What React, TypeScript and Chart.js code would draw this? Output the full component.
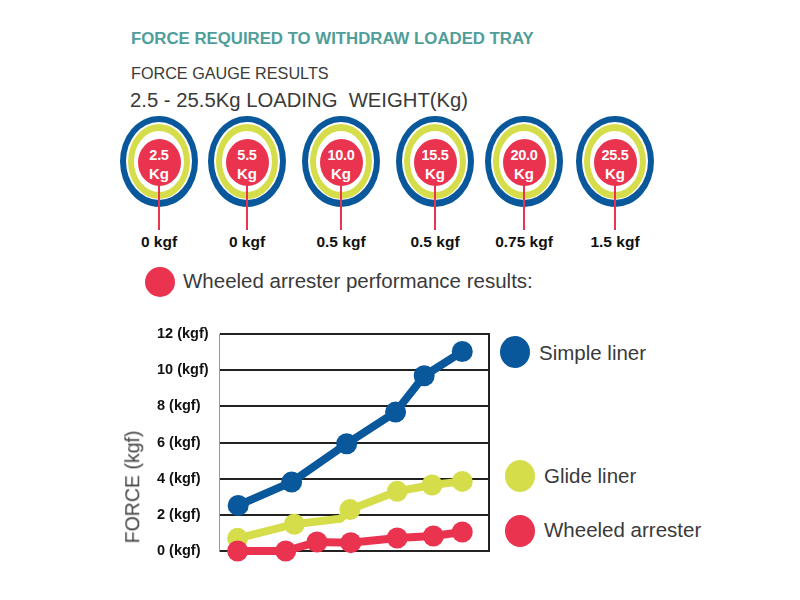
import React, { useEffect, useRef } from 'react';
import { Chart, registerables } from 'chart.js';

Chart.register(...registerables);

const BLUE = '#0a589c';
const YELLOW = '#d5de4a';
const RED = '#e9334f';
const TEAL = '#4f9e99';
const FONT = '"Liberation Sans", Arial, Helvetica, sans-serif';

// Gauge row
const gaugeLoads = ['2.5', '5.5', '10.0', '15.5', '20.0', '25.5'];
const gaugeForces = ['0 kgf', '0 kgf', '0.5 kgf', '0.5 kgf', '0.75 kgf', '1.5 kgf'];

// Chart series (x = relative test position, y = force in kgf)
const seriesNames = ['Simple liner', 'Glide liner', 'Wheeled arrester'];
const simplePos = [7.1, 26.9, 47.3, 65.4, 76.0, 90.1];
const simpleForce = [2.52, 3.81, 5.93, 7.68, 9.69, 11.03];
const glidePos = [6.9, 27.9, 45.0, 48.5, 66.0, 78.9, 90.1];
const glideForce = [0.7, 1.48, 1.79, 2.29, 3.3, 3.65, 3.85];
const glideMarker = [1, 1, 0, 1, 1, 1, 1];
const wheeledPos = [6.9, 24.7, 36.3, 48.8, 66.0, 79.4, 90.1];
const wheeledForce = [0, 0, 0.5, 0.46, 0.72, 0.83, 1.05];
const yTickLabels = ['0 (kgf)', '2 (kgf)', '4 (kgf)', '6 (kgf)', '8 (kgf)', '10 (kgf)', '12 (kgf)'];

const T: React.FC<any> = ({ x, cy, size, weight = 400, color = '#3a3a3a', center = false, ls, children }) => (
  <div
    style={{
      position: 'absolute',
      left: x,
      top: cy - 0.49 * size,
      fontSize: size,
      lineHeight: `${size}px`,
      fontWeight: weight,
      color,
      fontFamily: FONT,
      whiteSpace: 'pre',
      letterSpacing: ls,
      transform: center ? 'translateX(-50%)' : undefined,
    }}
  >
    {children}
  </div>
);

const E: React.FC<any> = ({ cx, cy, w, h, color }) => (
  <div
    style={{
      position: 'absolute',
      left: cx - w / 2,
      top: cy - h / 2,
      width: w,
      height: h,
      borderRadius: '50%',
      background: color,
    }}
  />
);

const gaugeX = [159, 247, 341, 435, 524, 615];

const Gauge: React.FC<any> = ({ cx, load, force }) => {
  const cy = 161;
  return (
    <>
      <E cx={cx} cy={cy} w={78} h={91} color={BLUE} />
      <E cx={cx} cy={cy} w={66} h={78} color="#fff" />
      <E cx={cx} cy={cy} w={62} h={75} color={YELLOW} />
      <E cx={cx} cy={cy} w={50} h={61} color="#fff" />
      <E cx={cx} cy={cy + 1} w={43} h={47} color={RED} />
      <div style={{ position: 'absolute', left: cx - 1, top: 184, width: 2, height: 46, background: RED }} />
      <T x={cx} cy={155.5} size={14.5} weight={700} color="#fff" center ls={-0.3}>{load}</T>
      <T x={cx} cy={173.5} size={15} weight={700} color="#fff" center>Kg</T>
      <T x={cx} cy={241.7} size={15.5} weight={700} color="#111" center>{force}</T>
    </>
  );
};

const ChartBox: React.FC = () => {
  const ref = useRef<HTMLCanvasElement>(null);
  useEffect(() => {
    if (!ref.current) return;
    const frame = {
      id: 'frame',
      beforeDatasetsDraw(chart: any) {
        const { ctx, chartArea } = chart;
        ctx.save();
        ctx.strokeStyle = '#222';
        ctx.lineWidth = 2;
        ctx.beginPath();
        ctx.moveTo(Math.round(chartArea.right), chartArea.top - 1);
        ctx.lineTo(Math.round(chartArea.right), chartArea.bottom + 1);
        ctx.stroke();
        ctx.restore();
      },
    };
    const mk = (xs: number[], ys: number[]) => xs.map((x, i) => ({ x, y: ys[i] }));
    const chart = new Chart(ref.current, {
      type: 'line',
      data: {
        datasets: [
          {
            label: seriesNames[0],
            data: mk(simplePos, simpleForce),
            borderColor: BLUE,
            backgroundColor: BLUE,
            borderWidth: 8,
            pointRadius: 10.5,
            pointBorderWidth: 0,
            pointHoverRadius: 10.5,
            tension: 0,
            clip: false as any,
            order: 2,
          },
          {
            label: seriesNames[1],
            data: mk(glidePos, glideForce),
            borderColor: YELLOW,
            backgroundColor: YELLOW,
            borderWidth: 8,
            pointRadius: glideMarker.map((m) => (m ? 10.5 : 0)),
            pointBorderWidth: 0,
            tension: 0,
            clip: false as any,
            order: 1,
          },
          {
            label: seriesNames[2],
            data: mk(wheeledPos, wheeledForce),
            borderColor: RED,
            backgroundColor: RED,
            borderWidth: 8,
            pointRadius: 10.5,
            pointBorderWidth: 0,
            tension: 0,
            clip: false as any,
            order: 0,
          },
        ],
      },
      options: {
        animation: false,
        responsive: false,
        maintainAspectRatio: false,
        layout: { padding: { left: 17, right: 11, top: 14, bottom: 14 } },
        plugins: { legend: { display: false }, tooltip: { enabled: false } },
        scales: {
          x: { type: 'linear', display: false, min: 0, max: 100 },
          y: {
            min: 0,
            max: 12,
            afterFit: (s: any) => {
              s.width = 62;
            },
            ticks: {
              stepSize: 2,
              crossAlign: 'far',
              color: '#111',
              font: { family: FONT, size: 14.5, weight: 'bold' },
              callback: (v: any) => yTickLabels[Math.round(Number(v) / 2)],
            },
            grid: { color: '#222', lineWidth: 2, drawTicks: false },
            border: { display: true, color: '#999', width: 1 },
          },
        },
      },
      plugins: [frame],
    });
    return () => chart.destroy();
  }, []);
  return (
    <div style={{ position: 'absolute', left: 140, top: 320, width: 360, height: 245 }}>
      <canvas ref={ref} width={360} height={245} style={{ width: 360, height: 245 }} />
    </div>
  );
};

export default function App() {
  return (
    <div
      style={{
        position: 'fixed',
        left: 0,
        top: 0,
        width: 800,
        height: 600,
        background: '#fff',
        overflow: 'hidden',
      }}
    >
      <T x={131} cy={39.5} size={16.8} weight={700} color={TEAL}>FORCE REQUIRED TO WITHDRAW LOADED TRAY</T>
      <T x={131} cy={72.5} size={16.2}>FORCE GAUGE RESULTS</T>
      <T x={130} cy={99.5} size={20.3}>2.5 - 25.5Kg LOADING  WEIGHT(Kg)</T>

      {gaugeLoads.map((l, i) => (
        <Gauge key={i} cx={gaugeX[i]} load={l} force={gaugeForces[i]} />
      ))}

      <E cx={160} cy={282} w={30} h={30} color={RED} />
      <T x={183} cy={281} size={20.5}>Wheeled arrester performance results:</T>

      <ChartBox />

      <div
        style={{
          position: 'absolute',
          left: 133,
          top: 487,
          fontSize: 19.5,
          lineHeight: '19.5px',
          fontFamily: FONT,
          color: '#444',
          whiteSpace: 'nowrap',
          transform: 'translate(-50%, -50%) rotate(-90deg)',
        }}
      >
        FORCE (kgf)
      </div>

      <E cx={515} cy={351.5} w={30} h={32} color={BLUE} />
      <T x={539} cy={353} size={20.5}>{seriesNames[0]}</T>
      <E cx={520} cy={475.5} w={30} h={32} color={YELLOW} />
      <T x={544} cy={476.5} size={20.5}>{seriesNames[1]}</T>
      <E cx={520} cy={530.5} w={30} h={32} color={RED} />
      <T x={544} cy={530.5} size={20.5}>{seriesNames[2]}</T>
    </div>
  );
}
